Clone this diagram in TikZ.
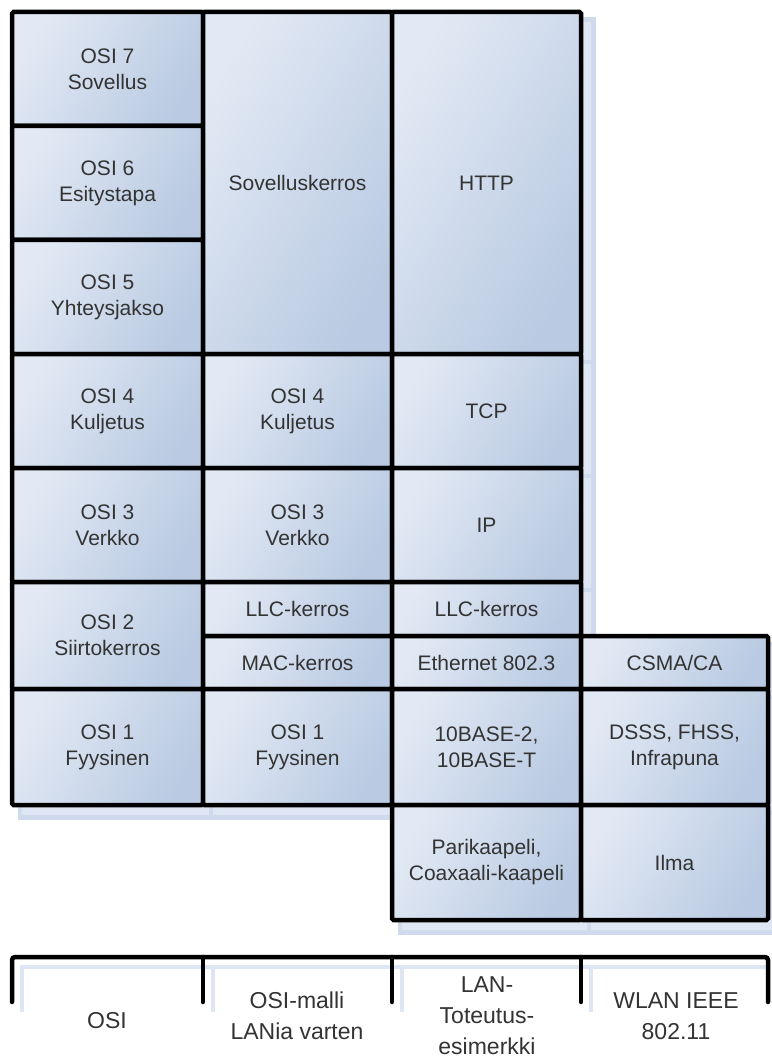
\documentclass[tikz,border=0pt]{standalone}
\usepackage{fontspec}
\setmainfont{Liberation Sans}
\usetikzlibrary{backgrounds}
\definecolor{cellhi}{HTML}{E2E9F4}
\definecolor{celllo}{HTML}{B9CAE2}
\definecolor{shadowfill}{HTML}{DDE6F2}
\definecolor{shadowline}{HTML}{CFDAEC}
\definecolor{inkgray}{HTML}{333333}
\tikzset{
  cellbox/.style={draw=black, line width=4.5pt, rounded corners=1.5pt,
    top color=cellhi, bottom color=celllo, shading angle=60,
    text=inkgray, align=center, inner sep=2pt,
    font=\fontsize{21}{26}\selectfont},
  cellshadow/.style={draw=shadowline, fill=shadowfill, line width=4.5pt},
  bracketline/.style={draw=black, line width=4.5pt, line cap=round, rounded corners=3pt},
  bracketshadow/.style={draw=shadowfill, line width=4.5pt},
  caption/.style={text=inkgray, align=center, font=\fontsize{23}{31}\selectfont}
}
% one cell of the table: name, x1, y1, x2, y2, text
\newcommand{\cell}[6]{%
  \node[cellbox, minimum width={#4-#2}, minimum height={#5-#3}]
    (#1) at ({(#2+#4)/2},{(#3+#5)/2}) {#6};}
\begin{document}
\begin{tikzpicture}[x=1pt, y=-1pt]
\useasboundingbox (0,0) rectangle (771,1059);

% column 1: OSI
\cell{osiA}{12}{12}{203}{126}{OSI 7\\Sovellus}
\cell{osiB}{12}{126}{203}{240}{OSI 6\\Esitystapa}
\cell{osiC}{12}{240}{203}{354}{OSI 5\\Yhteysjakso}
\cell{osiD}{12}{354}{203}{468}{OSI 4\\Kuljetus}
\cell{osiE}{12}{468}{203}{582}{OSI 3\\Verkko}
\cell{osiF}{12}{582}{203}{689}{OSI 2\\Siirtokerros}
\cell{osiG}{12}{689}{203}{805}{OSI 1\\Fyysinen}
% column 2: OSI model for LAN
\cell{lanA}{203}{12}{392}{354}{Sovelluskerros}
\cell{lanB}{203}{354}{392}{468}{OSI 4\\Kuljetus}
\cell{lanC}{203}{468}{392}{582}{OSI 3\\Verkko}
\cell{lanD}{203}{582}{392}{636}{LLC-kerros}
\cell{lanE}{203}{636}{392}{689}{MAC-kerros}
\cell{lanF}{203}{689}{392}{805}{OSI 1\\Fyysinen}
% column 3: LAN example
\cell{impA}{392}{12}{581}{354}{HTTP}
\cell{impB}{392}{354}{581}{468}{TCP}
\cell{impC}{392}{468}{581}{582}{IP}
\cell{impD}{392}{582}{581}{636}{LLC-kerros}
\cell{impE}{392}{636}{581}{689}{Ethernet 802.3}
\cell{impF}{392}{689}{581}{805}{10BASE-2,\\10BASE-T}
\cell{impG}{392}{805}{581}{920}{Parikaapeli,\\Coaxaali-kaapeli}
% column 4: WLAN
\cell{wlA}{581}{636}{768}{689}{CSMA/CA}
\cell{wlB}{581}{689}{768}{805}{DSSS, FHSS,\\Infrapuna}
\cell{wlC}{581}{805}{768}{920}{Ilma}

% column bracket
\coordinate (k0) at (12,957);
\coordinate (k1) at (203,957);
\coordinate (k2) at (392,957);
\coordinate (k3) at (581,957);
\coordinate (k4) at (768,957);
\draw[bracketline] ([shift={(0,45)}]k0) -- (k0) -- (k4) -- ([shift={(0,45)}]k4);
\foreach \k in {k1,k2,k3}
  \draw[bracketline] (\k) -- ([shift={(0,45)}]\k);

% white page, then soft shadows behind the cells and the bracket
\begin{scope}[on background layer]
  \fill[white] (0,0) rectangle (771,1059);
  \foreach \n in {osiA,osiB,osiC,osiD,osiE,osiF,osiG,lanA,lanB,lanC,lanD,lanE,lanF,
                  impA,impB,impC,impD,impE,impF,impG,wlA,wlB,wlC}
    \path[cellshadow] ([shift={(10,10)}]\n.north west) rectangle ([shift={(10,10)}]\n.south east);
  \draw[bracketshadow] ([shift={(10,55)}]k0) -- ([shift={(10,10)}]k0) -- ([shift={(0,10)}]k4);
  \foreach \k in {k1,k2,k3}
    \draw[bracketshadow] ([shift={(10,10)}]\k) -- ([shift={(10,55)}]\k);
\end{scope}

% column captions
\node[caption] (capA) at (107,1021) {OSI};
\node[caption] (capB) at (297,1016) {OSI-malli\\LANia varten};
\node[caption] (capC) at (487,1016) {LAN-\\Toteutus-\\esimerkki};
\node[caption] (capD) at (676,1016) {WLAN IEEE\\802.11};
\end{tikzpicture}
\end{document}
